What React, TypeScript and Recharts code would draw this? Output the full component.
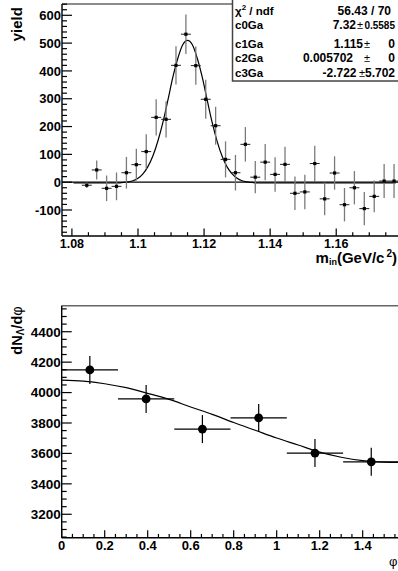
import { ComposedChart, Scatter, Line, XAxis, YAxis, ErrorBar, ReferenceLine } from 'recharts'

// invariant mass histogram (bin centres, GeV/c^2)
const massBins = [
  1.0845, 1.0875, 1.0905, 1.0935, 1.0965, 1.0995, 1.1025, 1.1055, 1.1085, 1.1115, 1.1145,
  1.1175, 1.1205, 1.1235, 1.1265, 1.1295, 1.1325, 1.1355, 1.1385, 1.1415, 1.1445, 1.1475,
  1.1505, 1.1535, 1.1565, 1.1595, 1.1625, 1.1655, 1.1685, 1.1715, 1.1745, 1.1775,
]
const yields = [
  -11, 44, -22, -15, 34, 63, 110, 233, 226, 420, 532, 419, 298, 203, 82, 34, 136, 18, 72, 28,
  64, -40, -35, 67, -60, 33, -81, -20, -95, -51, 4, 4,
]
const yieldErrors = [
  10, 34, 46, 50, 57, 57, 62, 65, 65, 69, 71, 69, 70, 68, 65, 64, 62, 58, 65, 62, 63, 60, 62,
  64, 59, 60, 60, 60, 60, 57, 61, 61,
]
const massHalfBin = 0.0015

// gaussian fit curve
const fitMass = [
  1.0805, 1.094, 1.0955, 1.097, 1.0985, 1.1, 1.1015, 1.103, 1.1045, 1.106, 1.1075, 1.109,
  1.1105, 1.112, 1.1135, 1.115, 1.1165, 1.118, 1.1195, 1.121, 1.1225, 1.124, 1.1255, 1.127,
  1.1285, 1.13, 1.1315, 1.133, 1.1345, 1.136, 1.178,
]
const fitYield = [
  -3, -3, -1, 1, 5, 14, 30, 56, 94, 147, 213, 292, 375, 443, 493, 510, 493, 443, 375, 292,
  212, 145, 92, 54, 30, 14, 5, 1, -1, -3, -3,
]

// dN/dphi
const phiBins = [0.1309, 0.3927, 0.6545, 0.9163, 1.1781, 1.4399]
const dNdPhi = [4149, 3958, 3760, 3833, 3602, 3545]
const dNdPhiErrors = [92, 92, 92, 92, 92, 92]
const phiHalfWidth = 0.1309

const fitPhi = [0, 0.1, 0.2, 0.3, 0.4, 0.5, 0.6, 0.7, 0.8, 0.9, 1.0, 1.1, 1.2, 1.3, 1.4, 1.5, 1.5708]
const fitDN = [
  4082, 4075, 4058, 4032, 3995, 3955, 3905, 3857, 3803, 3752, 3701, 3655, 3608, 3575, 3553,
  3543, 3541,
]

const massMajor = [1.08, 1.1, 1.12, 1.14, 1.16]
const yieldMajor = [-100, 0, 100, 200, 300, 400, 500, 600]
const phiMajor = [0, 0.2, 0.4, 0.6, 0.8, 1, 1.2, 1.4]
const dnMajor = [3200, 3400, 3600, 3800, 4000, 4200, 4400]

const steps = (from: number, to: number, step: number) => {
  const out: number[] = []
  for (let v = from; v <= to + 1e-9; v += step) out.push(parseFloat(v.toFixed(5)))
  return out
}

const massTicks = steps(1.08, 1.175, 0.005)
const yieldTicks = steps(-180, 640, 20)
const phiTicks = steps(0, 1.55, 0.05)
const dnTicks = steps(3050, 4550, 50)

const FONT = '"Liberation Sans", Arial, Helvetica, sans-serif'

const isMajor = (v: number, majors: number[]) => majors.some((m) => Math.abs(m - v) < 1e-6)
const fmt = (v: number) => String(parseFloat(v.toFixed(4)))

const makeXTick = (majors: number[], fs: number, labelDy: number) => (props: any) => {
  const { x, y, payload } = props
  const big = isMajor(payload.value, majors)
  return (
    <g>
      <line x1={x} y1={y} x2={x} y2={y - (big ? 7.5 : 3.8)} stroke="#000" strokeWidth={1.2} />
      {big && (
        <text x={x} y={y + labelDy} textAnchor="middle" fontSize={fs} fontWeight="bold" fontFamily={FONT} fill="#000">
          {fmt(payload.value)}
        </text>
      )}
    </g>
  )
}

const makeYTick = (majors: number[], fs: number) => (props: any) => {
  const { x, y, payload } = props
  const big = isMajor(payload.value, majors)
  return (
    <g>
      <line x1={x} y1={y} x2={x + (big ? 10 : 5)} y2={y} stroke="#000" strokeWidth={1.2} />
      {big && (
        <text x={x - 1} y={y + fs * 0.36} textAnchor="end" fontSize={fs} fontWeight="bold" fontFamily={FONT} fill="#000">
          {fmt(payload.value)}
        </text>
      )}
    </g>
  )
}

const massPoints = massBins.map((x, i) => ({ x, y: yields[i], ey: yieldErrors[i], ex: massHalfBin }))
const massFit = fitMass.map((x, i) => ({ x, y: fitYield[i] }))
const phiPoints = phiBins.map((x, i) => ({ x, y: dNdPhi[i], ey: dNdPhiErrors[i], ex: phiHalfWidth }))
const phiFit = fitPhi.map((x, i) => ({ x, y: fitDN[i] }))

const smallSquare = (p: any) => <rect x={p.cx - 1.6} y={p.cy - 1.6} width={3.2} height={3.2} fill="#000" />
const bigDot = (p: any) => <circle cx={p.cx} cy={p.cy} r={4.4} fill="#000" />

const axisLine = { stroke: '#000', strokeWidth: 1.4 }

const statRows = [
  { name: 'c0Ga', value: '7.32', valueEnd: 356, pm: 360, err: '0.5585', errFs: 10, y: 29.3 },
  { name: 'c1Ga', value: '1.115', valueEnd: 363, pm: 367, err: '0', errFs: 12, y: 48.3 },
  { name: 'c2Ga', value: '0.005702', valueEnd: 353, pm: 367, err: '0', errFs: 12, y: 61.7 },
  { name: 'c3Ga', value: '-2.722', valueEnd: 356.5, pm: 362, err: '5.702', errFs: 12, y: 76.7 },
]

export default function App() {
  const txt = { fontFamily: FONT, fontWeight: 'bold' as const, fill: '#000' }
  return (
    <div style={{ position: 'absolute', left: 0, top: 0, width: 398, height: 571, overflow: 'hidden', background: '#fff' }}>
      <div style={{ position: 'absolute', left: 0, top: 0 }}>
        <ComposedChart width={399} height={270} margin={{ top: 4, right: 0, bottom: 0, left: 0 }}>
          <XAxis
            type="number"
            dataKey="x"
            domain={[1.077, 1.179]}
            ticks={massTicks}
            interval={0}
            tickSize={0}
            tickMargin={0}
            tick={makeXTick(massMajor, 12.5, 12.3)}
            axisLine={axisLine}
            height={34}
            allowDataOverflow
          />
          <YAxis
            type="number"
            dataKey="y"
            domain={[-193.5, 640.6]}
            ticks={yieldTicks}
            interval={0}
            tickSize={0}
            tickMargin={0}
            tick={makeYTick(yieldMajor, 13)}
            axisLine={axisLine}
            width={62}
            allowDataOverflow
          />
          <ReferenceLine y={640.6} stroke="#666" strokeWidth={1.5} ifOverflow="visible" />
          <ReferenceLine y={0} stroke="#000" strokeWidth={1.2} />
          <Line data={massFit} dataKey="y" type="monotone" stroke="#000" strokeWidth={1.2} dot={false} isAnimationActive={false} />
          <Scatter data={massPoints} fill="#000" shape={smallSquare} isAnimationActive={false}>
            <ErrorBar dataKey="ey" direction="y" width={0} stroke="#7a7a7a" strokeWidth={1.3} />
            <ErrorBar dataKey="ex" direction="x" width={0} stroke="#222" strokeWidth={1} />
          </Scatter>
        </ComposedChart>
      </div>

      <div style={{ position: 'absolute', left: 0, top: 290 }}>
        <ComposedChart width={399.4} height={281} margin={{ top: 15.7, right: 0, bottom: 0, left: 0 }}>
          <XAxis
            type="number"
            dataKey="x"
            domain={[0, 1.5708]}
            ticks={phiTicks}
            interval={0}
            tickSize={0}
            tickMargin={0}
            tick={makeXTick(phiMajor, 13, 12.5)}
            axisLine={axisLine}
            height={33.3}
            allowDataOverflow
          />
          <YAxis
            type="number"
            dataKey="y"
            domain={[3046, 4571]}
            ticks={dnTicks}
            interval={0}
            tickSize={0}
            tickMargin={0}
            tick={makeYTick(dnMajor, 13.5)}
            axisLine={axisLine}
            width={61.7}
            allowDataOverflow
          />
          <ReferenceLine y={4571} stroke="#666" strokeWidth={1.5} ifOverflow="visible" />
          <Line data={phiFit} dataKey="y" type="monotone" stroke="#000" strokeWidth={1.2} dot={false} isAnimationActive={false} />
          <Scatter data={phiPoints} fill="#000" shape={bigDot} isAnimationActive={false}>
            <ErrorBar dataKey="ey" direction="y" width={0} stroke="#000" strokeWidth={1.2} />
            <ErrorBar dataKey="ex" direction="x" width={0} stroke="#000" strokeWidth={1.2} />
          </Scatter>
        </ComposedChart>
      </div>

      <svg width={398} height={571} style={{ position: 'absolute', left: 0, top: 0, pointerEvents: 'none' }}>
        {/* axis titles */}
        <text transform="translate(22,24.2) rotate(-90)" textAnchor="middle" fontSize={15} {...txt}>
          yield
        </text>
        <text transform="translate(22,330.5) rotate(-90)" textAnchor="middle" fontSize={14.5} {...txt}>
          dN
          <tspan fontSize={10} dy={2}>Λ</tspan>
          <tspan dy={-2}>/d</tspan>
          <tspan fontWeight="normal">φ</tspan>
        </text>
        <text x={397} y={262.5} textAnchor="end" fontSize={15} {...txt}>
          m
          <tspan fontSize={9} dy={2}>in</tspan>
          <tspan dy={-2}>(GeV/c</tspan>
          <tspan fontSize={10} dx={2} dy={-6}>2</tspan>
          <tspan dy={6}>)</tspan>
        </text>
        <text x={389} y={566} fontSize={13} fontFamily={FONT} fill="#000">
          φ
        </text>

        {/* fit statistics box */}
        <rect x={232.5} y={-1} width={170} height={82} fill="#fff" stroke="#444" strokeWidth={1.5} />
        <text x={235} y={15} fontSize={11.5} {...txt}>
          χ<tspan fontSize={8} dy={-5}>2</tspan>
          <tspan dy={5}> / ndf</tspan>
        </text>
        <text x={391} y={15} textAnchor="end" fontSize={12} {...txt}>
          56.43 / 70
        </text>
        {statRows.map((r) => (
          <g key={r.name}>
            <text x={235} y={r.y} fontSize={11.5} {...txt}>
              {r.name}
            </text>
            <text x={r.valueEnd} y={r.y} textAnchor="end" fontSize={12} {...txt}>
              {r.value}
            </text>
            <text x={r.pm} y={r.y} textAnchor="middle" fontSize={11} fontFamily={FONT} fill="#000">
              ±
            </text>
            <text x={395} y={r.y} textAnchor="end" fontSize={r.errFs} {...txt}>
              {r.err}
            </text>
          </g>
        ))}
      </svg>
    </div>
  )
}
